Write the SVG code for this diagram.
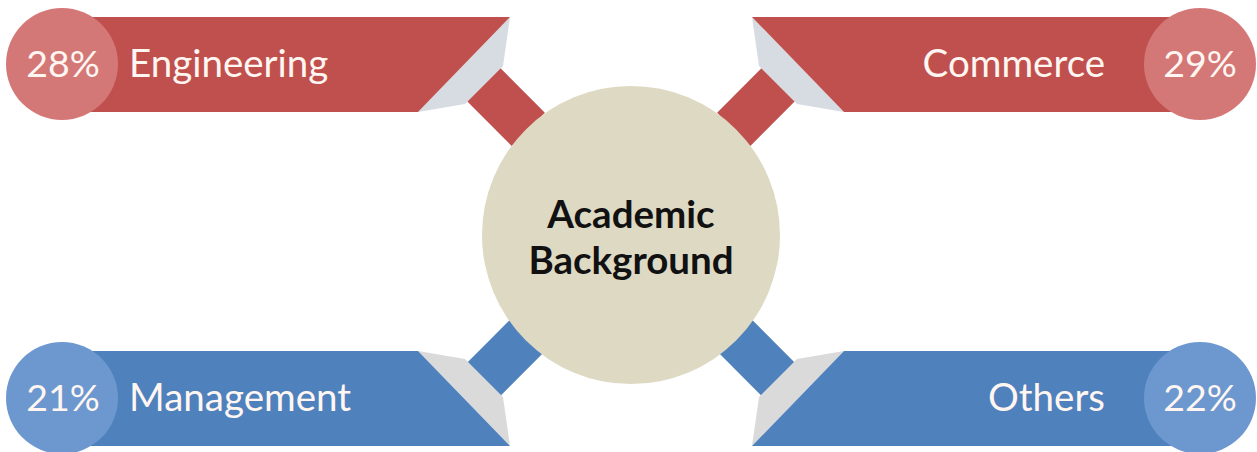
<svg xmlns="http://www.w3.org/2000/svg" width="1257" height="452" viewBox="0 0 1257 452">
<style>
.red{fill:#C0504D}
.redc{fill:#D47877}
.blue{fill:#4F81BD}
.bluec{fill:#6C98CF}
.foldr{fill:#D6DCE2}
.foldb{fill:#DADADA}
.lbl{font-family:Lato,"Liberation Sans",sans-serif;font-size:38.5px;fill:#FFF6F2}
.pct{font-family:Lato,"Liberation Sans",sans-serif;font-size:37.5px;fill:#FFF6F2;text-anchor:middle}
.ctr{font-family:Lato,"Liberation Sans",sans-serif;font-size:38.5px;font-weight:bold;fill:#111;text-anchor:middle}
</style>
<rect width="1257" height="452" fill="#fff"/>
<g id="connectors">
<rect class="red" x="-31.5" y="-23.5" width="63" height="47" transform="translate(506,107) rotate(45)"/>
<rect class="red" x="-31.5" y="-23.5" width="63" height="47" transform="translate(756,107) rotate(-45)"/>
<rect class="blue" x="-31.5" y="-23.5" width="63" height="47" transform="translate(506,357) rotate(-45)"/>
<rect class="blue" x="-31.5" y="-23.5" width="63" height="47" transform="translate(756,357) rotate(45)"/>
</g>
<g id="center">
<circle cx="631" cy="235" r="149" fill="#DDD9C3"/>
<text class="ctr" x="631" y="228">Academic</text>
<text class="ctr" x="631" y="274">Background</text>
</g>
<g id="engineering">
<polygon class="foldr" points="510,17 503,66 465,104 418,112"/>
<polygon class="red" points="50,17 510,17 418,112 50,112"/>
<circle class="redc" cx="62" cy="64" r="56"/>
<text class="pct" x="63" y="77">28%</text>
<text class="lbl" x="129" y="77">Engineering</text>
</g>
<g id="commerce">
<polygon class="foldr" points="752,17 759,66 797,104 844,112"/>
<polygon class="red" points="1210,17 752,17 844,112 1210,112"/>
<circle class="redc" cx="1200" cy="64" r="56"/>
<text class="pct" x="1200" y="77">29%</text>
<text class="lbl" x="1105" y="77" text-anchor="end">Commerce</text>
</g>
<g id="management">
<polygon class="foldb" points="510,446 503,397 465,359 418,351"/>
<polygon class="blue" points="50,351 418,351 510,446 50,446"/>
<circle class="bluec" cx="62" cy="398" r="56"/>
<text class="pct" x="63" y="411">21%</text>
<text class="lbl" x="129" y="411">Management</text>
</g>
<g id="others">
<polygon class="foldb" points="752,446 759,397 797,359 844,351"/>
<polygon class="blue" points="1210,351 844,351 752,446 1210,446"/>
<circle class="bluec" cx="1200" cy="398" r="56"/>
<text class="pct" x="1200" y="411">22%</text>
<text class="lbl" x="1105" y="411" text-anchor="end">Others</text>
</g>
</svg>
